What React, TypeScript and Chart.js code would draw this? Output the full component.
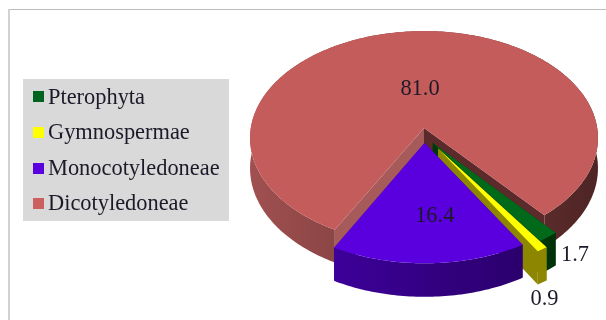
import React, { useEffect, useRef } from "react";
import { Chart, registerables } from "chart.js";

Chart.register(...registerables);

// Share of species per plant group, in percent.
const categories = ["Pterophyta", "Gymnospermae", "Monocotyledoneae", "Dicotyledoneae"];
const shares = [1.7, 0.9, 16.4, 81.0];
const shareLabels = ["1.7", "0.9", "16.4", "81.0"];

const topColors = ["#006A1A", "#FFFF00", "#5A00DE", "#C55C5C"];
const legendColors = ["#006420", "#FFFF00", "#5A00DE", "#CC6060"];
const wallStops = [
  ["#00380A", "#00300A"],
  ["#8C8600", "#8C8600"],
  ["#3C0099", "#2B006C"],
  ["#A05050", "#4E2424"],
];
const startFaceColors = ["#00380A", "#8C8600", "#3C0099", "#A65A5A"];
const endFaceColors = ["#00380A", "#8C8600", "#3C0099", "#5C2A2A"];

// Slices pulled away from the centre: fraction of the radius, and direction shift in degrees.
const pullOut = [0.149, 0.206, 0.14, 0];
const pullShift = [17.5, 9.7, 0, 0];
// Value label placement: radius fraction and angular shift in degrees.
const labelPolar: [number, number][] = [
  [1.33, 1],
  [1.52, 9],
  [0.764, -3],
  [0.39, 2.5],
];

// Tilted-disc view: horizontal and vertical stretch, perspective strength, rim height.
const STRETCH_X = 173.2 / 97;
const STRETCH_Y = 106 / 97;
const PERSPECTIVE = 0.0935;
const RIM = 30;
const FONT = '"Liberation Serif", "Times New Roman", serif';
const TEXT_SIZE = 22.4;

const pie3d = {
  id: "pie3d",
  beforeDraw(chart: any) {
    const { ctx } = chart;
    ctx.save();
    ctx.fillStyle = "#FFFFFF";
    ctx.fillRect(0, 0, chart.width, chart.height);
    ctx.fillStyle = "#BBBBBB";
    ctx.fillRect(8, 9, chart.width - 8, 1);
    ctx.fillStyle = "#D2D2D2";
    ctx.fillRect(8, 9, 2, chart.height - 9);
    ctx.restore();
  },
  beforeDatasetDraw(chart: any) {
    const { ctx } = chart;
    const arcs = chart.getDatasetMeta(0).data;
    const R = arcs[0].outerRadius;
    const cx = arcs[0].x;
    const cy = arcs[0].y;

    const project = (u: number, v: number, h: number) => {
      const d = 1 - PERSPECTIVE * v;
      return [cx + (R * STRETCH_X * u) / d, cy + (R * STRETCH_Y * v) / d + (h * RIM) / d];
    };
    const fillPath = (pts: number[][], fill: any) => {
      ctx.beginPath();
      pts.forEach((p, i) => (i ? ctx.lineTo(p[0], p[1]) : ctx.moveTo(p[0], p[1])));
      ctx.closePath();
      ctx.fillStyle = fill;
      ctx.fill();
    };

    ctx.save();
    // Painted back to front: the large slice first, pulled slices over it.
    [3, 0, 1, 2].forEach((i) => {
      const arc = arcs[i];
      const a0 = arc.startAngle;
      const a1 = arc.endAngle;
      const dir = (a0 + a1) / 2 + (pullShift[i] * Math.PI) / 180;
      const ox = pullOut[i] * Math.cos(dir);
      const oy = pullOut[i] * Math.sin(dir);
      const steps = Math.max(4, Math.ceil((a1 - a0) * 60));
      const rimAngles = Array.from({ length: steps + 1 }, (_, s) => a0 + ((a1 - a0) * s) / steps);
      const edge = (a: number, h: number) => project(ox + Math.cos(a), oy + Math.sin(a), h);
      const hub = (h: number) => project(ox, oy, h);

      fillPath([hub(0), edge(a0, 0), edge(a0, 1), hub(1)], startFaceColors[i]);
      fillPath([hub(0), edge(a1, 0), edge(a1, 1), hub(1)], endFaceColors[i]);

      const xs = rimAngles.map((a) => edge(a, 0)[0]);
      const grad = ctx.createLinearGradient(Math.min(...xs), 0, Math.max(...xs), 0);
      grad.addColorStop(0, wallStops[i][0]);
      grad.addColorStop(1, wallStops[i][1]);
      fillPath(
        [...rimAngles.map((a) => edge(a, 0)), ...rimAngles.slice().reverse().map((a) => edge(a, 1))],
        grad
      );

      fillPath([hub(0), ...rimAngles.map((a) => edge(a, 0))], topColors[i]);
    });

    // Value labels
    ctx.font = `${TEXT_SIZE}px ${FONT}`;
    ctx.fillStyle = "#1C1A28";
    ctx.textAlign = "center";
    ctx.textBaseline = "middle";
    arcs.forEach((arc: any, i: number) => {
      const a = (arc.startAngle + arc.endAngle) / 2 + (labelPolar[i][1] * Math.PI) / 180;
      const p = project(labelPolar[i][0] * Math.cos(a), labelPolar[i][0] * Math.sin(a), 0);
      ctx.fillText(shareLabels[i], p[0], p[1] + 1);
    });
    ctx.restore();
    return false;
  },
  afterDraw(chart: any) {
    const { ctx } = chart;
    ctx.save();
    ctx.fillStyle = "#D9D9D9";
    ctx.fillRect(23, 79, 206, 142);
    ctx.font = `${TEXT_SIZE}px ${FONT}`;
    ctx.textAlign = "left";
    ctx.textBaseline = "alphabetic";
    chart.data.labels.forEach((name: string, i: number) => {
      const rowTop = 91 + 35.8 * i;
      ctx.fillStyle = legendColors[i];
      ctx.fillRect(33, Math.round(rowTop), 11, 11);
      ctx.fillStyle = "#1C1A28";
      ctx.fillText(name, 48, 104 + 35.3 * i);
    });
    ctx.restore();
  },
};

export default function App() {
  const ref = useRef<HTMLCanvasElement>(null);
  useEffect(() => {
    document.body.style.margin = "0";
    const chart = new Chart(ref.current as HTMLCanvasElement, {
      type: "pie",
      data: {
        labels: categories,
        datasets: [{ data: shares, backgroundColor: topColors, borderWidth: 0 }],
      },
      options: {
        responsive: false,
        animation: false,
        rotation: 139.8,
        layout: { padding: { left: 327, right: 85, top: 31, bottom: 95 } },
        plugins: { legend: { display: false }, tooltip: { enabled: false } },
      },
      plugins: [pie3d],
    } as any);
    return () => chart.destroy();
  }, []);
  return <canvas ref={ref} width={606} height={320} style={{ display: "block" }} />;
}
